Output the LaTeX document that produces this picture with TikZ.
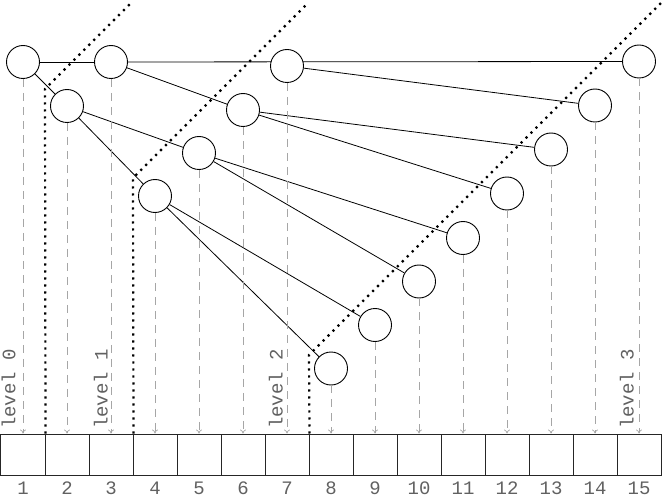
\documentclass[tikz,border=0pt]{standalone}
\usepackage{fontspec}
\setmonofont{Liberation Mono}
\usetikzlibrary{arrows.meta,backgrounds}
\begin{document}
\begin{tikzpicture}[x=1pt,y=-1pt,
  hnode/.style={circle,draw,fill=white,line width=0.9pt,minimum size=33pt,inner sep=0pt},
  cell/.style={draw=black!85,line width=1pt,minimum width=44pt,minimum height=41pt,inner sep=0pt},
  ptr/.style={draw=black!35,dash pattern=on 8pt off 6pt,line width=0.7pt,-{To[length=4pt,width=6pt]}},
  hedge/.style={line width=0.8pt},
  sepline/.style={line width=2.2pt,dash pattern=on 2.2pt off 4.8pt},
  lvl/.style={font=\ttfamily\fontsize{19}{19}\selectfont,text=black!62,rotate=90,anchor=base west,inner sep=0pt},
  num/.style={font=\ttfamily\fontsize{19}{19}\selectfont,text=black!62,anchor=base,inner sep=0pt}]
\useasboundingbox (-0.5,0) rectangle (663.5,497);
% heap nodes
\foreach \i/\y in {1/62,2/106,3/62,4/196,5/153,6/110,7/66,8/368.5,9/325,10/281.5,11/238,12/193.5,13/149.5,14/105.5,15/61.5}{
  \node[hnode] (n\i) at ({22.5+44*(\i-1)},\y) {};
  \node[cell] (c\i) at ({22.5+44*(\i-1)},454.5) {};
  \node[num] (k\i) at ({22.5+44*(\i-1)},494) {\i};
}
% heap edges
\begin{scope}[on background layer]
  \draw[hedge] (n1) -- (n3);
  \draw[hedge] (n3) -- (n15);
  \foreach \p/\c in {1/2,2/4,4/8,2/5,3/6,4/9,5/10,5/11,6/12,6/13,7/14}{
    \draw[hedge] (n\p) -- (n\c);
  }
\end{scope}
% pointers to array cells
\foreach \i in {1,...,15}{
  \draw[ptr] (n\i) -- (c\i.north);
}
% level labels
\node[lvl] (lv0) at (15,429) {level 0};
\node[lvl] (lv1) at (107,429) {level 1};
\node[lvl] (lv2) at (282,429) {level 2};
\node[lvl] (lv3) at (633,429) {level 3};
% level separators
\draw[sepline] (c1.north east) -- (44.5,89) -- (132.5,1);
\draw[sepline] (c3.north east) -- (132.5,178) -- (308,2.5);
\draw[sepline] (c7.north east) -- (308.5,355) -- (663.5,0);
\end{tikzpicture}
\end{document}
